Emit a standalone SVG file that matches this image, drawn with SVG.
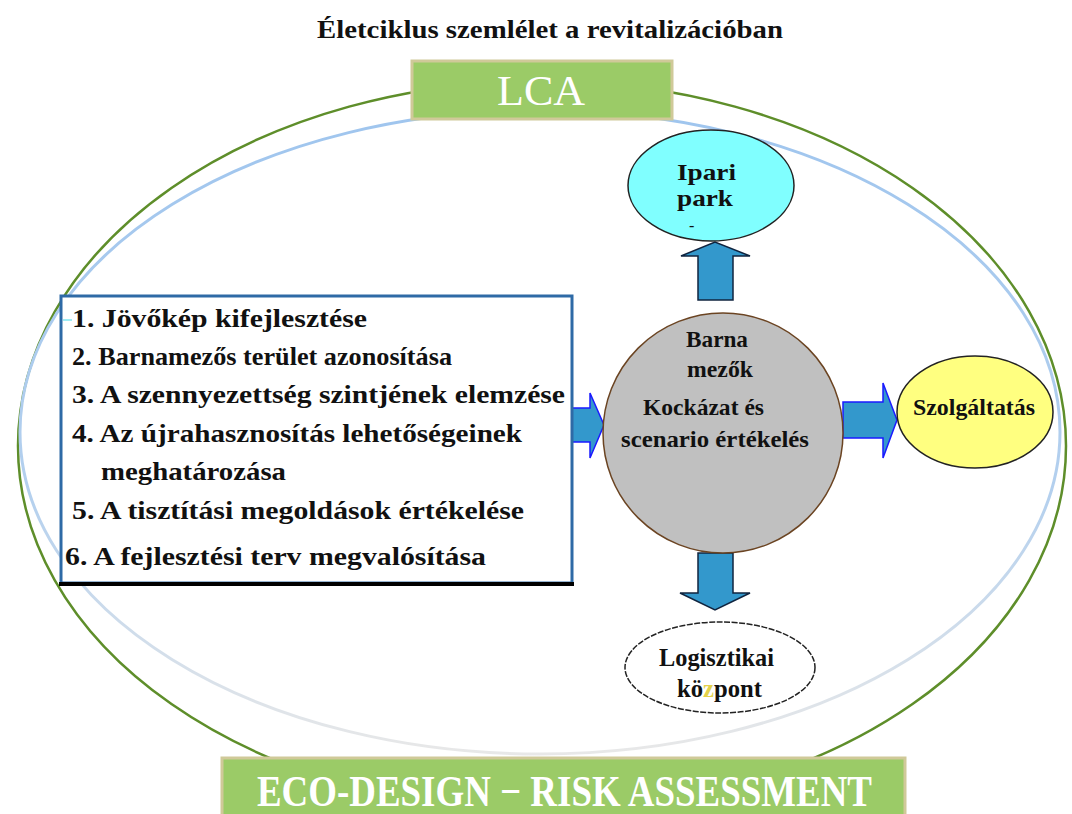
<svg xmlns="http://www.w3.org/2000/svg" width="1072" height="814" viewBox="0 0 1072 814">
  <defs>
    <linearGradient id="innerRing" x1="0" y1="0" x2="0" y2="1">
      <stop offset="0" stop-color="#9fc5ee"/>
      <stop offset="0.6" stop-color="#b4d0ee"/>
      <stop offset="1" stop-color="#e8e8e8"/>
    </linearGradient>
    <style>
      text { font-family: "Liberation Serif", "Times New Roman", serif; fill: #111; }
      .b { font-weight: bold; }
      .list { font-size: 26px; font-weight: bold; }
      .banner { fill: #9bcb67; stroke: #d0c999; stroke-width: 3; }
      .bannerText { fill: #ffffff; }
      .arrow { fill: #3398cc; stroke-linejoin: miter; }
    </style>
  </defs>

  <rect width="1072" height="814" fill="#ffffff"/>

  <!-- title -->
  <text class="b" x="317" y="38" font-size="25" textLength="466" lengthAdjust="spacingAndGlyphs">Életciklus szemlélet a revitalizációban</text>

  <!-- outer and inner rings -->
  <g id="rings" fill="none">
    <ellipse cx="542" cy="446" rx="524" ry="365" stroke="#5e8e2a" stroke-width="2.5"/>
    <ellipse cx="540" cy="432" rx="520" ry="322" stroke="url(#innerRing)" stroke-width="3"/>
  </g>

  <!-- LCA banner -->
  <g id="lca">
    <rect class="banner" x="412" y="61" width="260" height="58"/>
    <text class="bannerText" x="497" y="105" font-size="42" textLength="88" lengthAdjust="spacingAndGlyphs">LCA</text>
  </g>

  <!-- ECO-DESIGN banner -->
  <g id="ecodesign">
    <rect class="banner" x="222" y="758" width="683" height="62"/>
    <text class="bannerText b" x="257" y="806" font-size="44" textLength="615" lengthAdjust="spacingAndGlyphs">ECO-DESIGN − RISK ASSESSMENT</text>
  </g>

  <!-- connectors: block arrows -->
  <g id="connectors">
    <!-- list to centre -->
    <path class="arrow" stroke="#1a1aff" stroke-width="1.5" d="M572,408 H590 V393 L604,425 L590,458 V442 H572 Z"/>
    <!-- centre to Ipari park -->
    <path class="arrow" stroke="#10243f" stroke-width="1.5" d="M698,300 V256 H681 L715,242 L750,256 H733 V300 Z"/>
    <!-- centre to Szolgáltatás -->
    <path class="arrow" stroke="#1a1aff" stroke-width="1.5" d="M843,402 H883 V383 L897,420 L883,458 V438 H843 Z"/>
    <!-- centre to Logisztikai központ -->
    <path class="arrow" stroke="#10243f" stroke-width="1.5" d="M698,553 V593 H680 L715,610 L750,593 H733 V553 Z"/>
  </g>

  <!-- list of steps -->
  <g id="steps">
    <rect x="61" y="296" width="511" height="287" fill="#ffffff" stroke="#2e6aa6" stroke-width="3"/>
    <line x1="59" y1="584" x2="574" y2="584" stroke="#000" stroke-width="4"/>
    <line x1="63" y1="320" x2="72" y2="320" stroke="#7fe6f0" stroke-width="1.5"/>
    <text class="list" x="72" y="327" textLength="295" lengthAdjust="spacingAndGlyphs">1. Jövőkép kifejlesztése</text>
    <text class="list" x="72" y="365" textLength="380" lengthAdjust="spacingAndGlyphs">2. Barnamezős terület azonosítása</text>
    <text class="list" x="72" y="403" textLength="493" lengthAdjust="spacingAndGlyphs">3. A szennyezettség szintjének elemzése</text>
    <text class="list" x="72" y="442" textLength="450" lengthAdjust="spacingAndGlyphs">4. Az újrahasznosítás lehetőségeinek</text>
    <text class="list" x="101" y="480" textLength="185" lengthAdjust="spacingAndGlyphs">meghatározása</text>
    <text class="list" x="72" y="519" textLength="452" lengthAdjust="spacingAndGlyphs">5. A tisztítási megoldások értékelése</text>
    <text class="list" x="65" y="565" textLength="421" lengthAdjust="spacingAndGlyphs">6. A fejlesztési terv megvalósítása</text>
  </g>

  <!-- central node -->
  <g id="barna">
    <circle cx="723" cy="433" r="120" fill="#c0c0c0" stroke="#6b4422" stroke-width="1.5"/>
    <text class="b" x="686" y="347" font-size="24" textLength="62" lengthAdjust="spacingAndGlyphs">Barna</text>
    <text class="b" x="687" y="377" font-size="24" textLength="66" lengthAdjust="spacingAndGlyphs">mezők</text>
    <text class="b" x="643" y="415" font-size="23" textLength="121" lengthAdjust="spacingAndGlyphs">Kockázat és</text>
    <text class="b" x="621" y="447" font-size="23" textLength="188" lengthAdjust="spacingAndGlyphs">scenario értékelés</text>
  </g>

  <!-- Ipari park -->
  <g id="ipari">
    <ellipse cx="711" cy="185.5" rx="83" ry="55.5" fill="#80ffff" stroke="#222" stroke-width="1.5"/>
    <text class="b" x="677" y="180" font-size="23" textLength="59" lengthAdjust="spacingAndGlyphs">Ipari</text>
    <text class="b" x="677" y="206" font-size="23" textLength="56" lengthAdjust="spacingAndGlyphs">park</text>
    <text x="689" y="231" font-size="16">-</text>
  </g>

  <!-- Szolgáltatás -->
  <g id="szolgaltatas">
    <ellipse cx="975" cy="412" rx="78" ry="56" fill="#ffff80" stroke="#222" stroke-width="1.5"/>
    <text class="b" x="913" y="415" font-size="23" textLength="122" lengthAdjust="spacingAndGlyphs">Szolgáltatás</text>
  </g>

  <!-- Logisztikai központ -->
  <g id="logisztikai">
    <ellipse cx="720" cy="667.5" rx="95" ry="45.5" fill="#ffffff" stroke="#222" stroke-width="1.5" stroke-dasharray="6 1.5"/>
    <text class="b" x="659" y="666" font-size="25" textLength="115" lengthAdjust="spacingAndGlyphs">Logisztikai</text>
    <text class="b" x="677" y="697" font-size="25" textLength="85" lengthAdjust="spacingAndGlyphs">kö<tspan fill="#e3d24a">z</tspan>pont</text>
  </g>
</svg>
